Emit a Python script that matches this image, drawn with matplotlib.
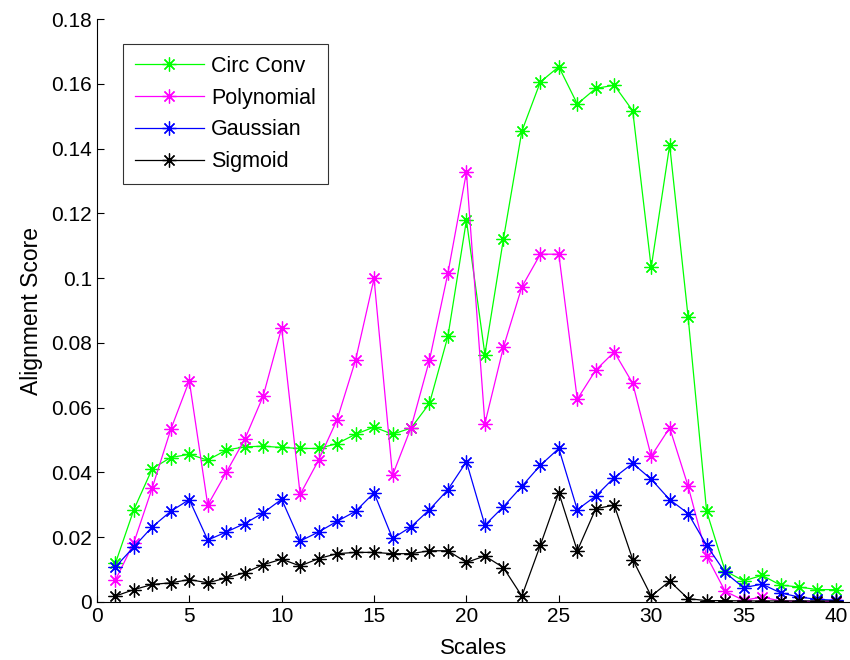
import matplotlib
matplotlib.use('Agg')
import matplotlib.pyplot as plt
import numpy as np

plt.rcParams['font.family'] = ['Liberation Sans', 'DejaVu Sans']

scales = np.arange(1, 41)

circ_conv = [0.0119, 0.0285, 0.0412, 0.0446, 0.0456, 0.0438, 0.0469, 0.0479, 0.0481, 0.0477,
             0.0474, 0.0474, 0.0489, 0.0518, 0.0540, 0.0518, 0.0537, 0.0613, 0.0821, 0.1179,
             0.0764, 0.1120, 0.1454, 0.1606, 0.1653, 0.1538, 0.1586, 0.1596, 0.1517, 0.1033,
             0.1411, 0.0879, 0.0280, 0.0096, 0.0065, 0.0082, 0.0052, 0.0046, 0.0038, 0.0038]

polynomial = [0.0067, 0.0183, 0.0353, 0.0533, 0.0683, 0.0299, 0.0400, 0.0502, 0.0636, 0.0847,
              0.0332, 0.0438, 0.0563, 0.0747, 0.0999, 0.0391, 0.0538, 0.0747, 0.1016, 0.1327,
              0.0551, 0.0786, 0.0973, 0.1074, 0.1074, 0.0626, 0.0716, 0.0772, 0.0675, 0.0450,
              0.0538, 0.0357, 0.0142, 0.0033, 0.0005, 0.0015, 0.0003, 0.0002, 0.0001, 0.0001]

gaussian = [0.0108, 0.0170, 0.0232, 0.0280, 0.0316, 0.0191, 0.0216, 0.0242, 0.0275, 0.0317,
            0.0188, 0.0216, 0.0249, 0.0280, 0.0337, 0.0196, 0.0232, 0.0285, 0.0347, 0.0433,
            0.0237, 0.0294, 0.0357, 0.0422, 0.0474, 0.0285, 0.0327, 0.0384, 0.0428, 0.0379,
            0.0316, 0.0273, 0.0175, 0.0091, 0.0044, 0.0055, 0.0028, 0.0015, 0.0008, 0.0005]

sigmoid = [0.0018, 0.0038, 0.0054, 0.0059, 0.0069, 0.0059, 0.0074, 0.0090, 0.0115, 0.0132,
           0.0111, 0.0134, 0.0149, 0.0153, 0.0153, 0.0149, 0.0149, 0.0158, 0.0158, 0.0122,
           0.0142, 0.0106, 0.0018, 0.0175, 0.0337, 0.0158, 0.0288, 0.0299, 0.0131, 0.0018,
           0.0064, 0.0010, 0.0004, 0.0004, 0.0003, 0.0003, 0.0003, 0.0003, 0.0003, 0.0003]

series = [('Circ Conv', circ_conv, '#00ff00'),
          ('Polynomial', polynomial, '#ff00ff'),
          ('Gaussian', gaussian, '#0000ff'),
          ('Sigmoid', sigmoid, '#000000')]

fig = plt.figure(figsize=(8.5, 6.6), dpi=100)
ax = fig.add_axes([0.114, 0.088, 0.886, 0.883])

asterisk = (8, 2, 0)
for name, vals, col in series:
    ax.plot(scales, vals, color=col, lw=0.9, marker=asterisk, ms=10, mew=0.9, label=name)

ax.set_xlim(0, 40.76)
ax.set_ylim(0, 0.18)
ax.set_xticks(np.arange(0, 41, 5))
ax.set_yticks(np.arange(0, 0.181, 0.02))
ax.set_yticklabels(['0'] + ['%g' % v for v in np.arange(0.02, 0.181, 0.02)])
ax.tick_params(direction='in', length=5, labelsize=15, width=0.8)
ax.spines['top'].set_visible(False)
ax.spines['right'].set_visible(False)
for s in ('left', 'bottom'):
    ax.spines[s].set_linewidth(0.8)

ax.set_xlabel('Scales', fontsize=16, labelpad=9)
ax.set_ylabel('Alignment Score', fontsize=16.5, labelpad=6)

leg = ax.legend(loc='upper left', bbox_to_anchor=(123 / 850, 1 - 44 / 660),
                bbox_transform=fig.transFigure, borderaxespad=0, fontsize=15.5,
                fancybox=False, edgecolor='black', handlelength=3.2,
                handletextpad=0.33, borderpad=0.55, labelspacing=0.5)
leg.get_frame().set_linewidth(0.8)

fig.savefig('out.png', dpi=100)
